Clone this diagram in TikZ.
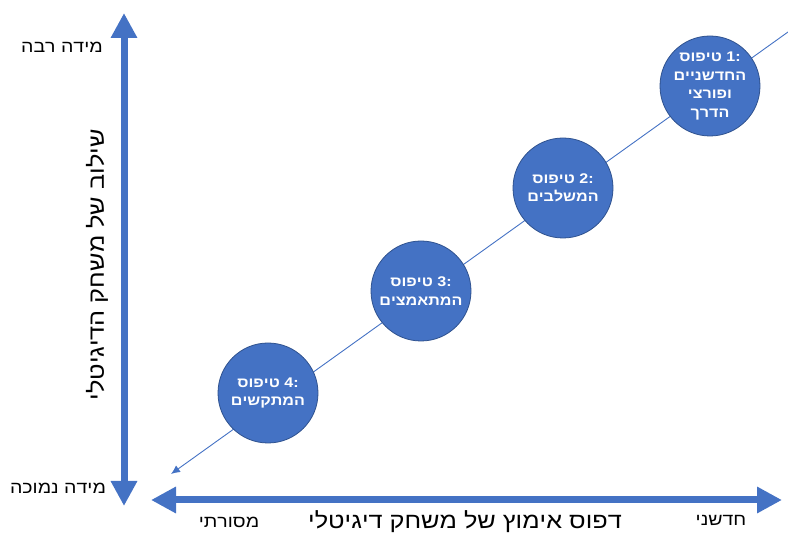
\documentclass[tikz,border=0pt]{standalone}
\usepackage{fontspec}
\setmainfont{Liberation Sans}[FakeStretch=1.15]
\TeXXeTstate=1
\usetikzlibrary{arrows.meta}
\definecolor{obl}{HTML}{4472C4}
\definecolor{obd}{HTML}{2F528F}
\newcommand{\typehead}[1]{\mbox{\beginR טיפוס\endR}\ \mbox{#1:}}
\tikzset{
  bigaxis/.style={draw=obl, line width=7pt, {Triangle[width=25pt,length=25pt]}-{Triangle[width=25pt,length=25pt]}},
  diag/.style={draw=obl, line width=0.9pt, {Latex[length=9pt,width=8pt]}-},
  typecircle/.style={circle, fill=obl, draw=obd, line width=0.8pt, minimum size=100pt, inner sep=0pt,
    text=white, font=\bfseries\fontsize{14}{18.5}\selectfont, align=center},
  lbl/.style={text=black, font=\fontsize{17}{20}\selectfont, inner sep=0pt},
  axtitle/.style={text=black, font=\fontsize{22}{25}\selectfont, inner sep=0pt}
}
\begin{document}
\begin{tikzpicture}[x=1pt,y=-1pt]
\useasboundingbox (0,0) rectangle (788,534);
% diagonal
\coordinate (dlo) at (171,474);
\coordinate (dhi) at (788,32);
\draw[diag] (dlo) -- (dhi);
% axes
\coordinate (ytop) at (124,13);
\coordinate (ybot) at (124,506);
\draw[bigaxis] (ybot) -- (ytop);
\coordinate (xl) at (151,500);
\coordinate (xr) at (782,500);
\draw[bigaxis] (xl) -- (xr);
% circles
\node[typecircle] (t1) at (710,86) {\typehead{1}\\\beginR החדשניים\endR\\\beginR ופורצי\endR\\\beginR הדרך\endR};
\node[typecircle] (t2) at (563,188) {\typehead{2}\\\beginR המשלבים\endR};
\node[typecircle] (t3) at (421,291) {\typehead{3}\\\beginR המתאמצים\endR};
\node[typecircle] (t4) at (268,393) {\typehead{4}\\\beginR המתקשים\endR};
% labels
\node[lbl] (hi) at (62,47) {\beginR מידה רבה\endR};
\node[lbl] (lo) at (58,488) {\beginR מידה נמוכה\endR};
\node[lbl] (trad) at (229,522) {\beginR מסורתי\endR};
\node[lbl] (inno) at (721,520) {\beginR חדשני\endR};
\node[axtitle] (xt) at (465,522) {\beginR דפוס אימוץ של משחק דיגיטלי\endR};
\node[axtitle, rotate=90] (yt) at (97,265) {\beginR שילוב של משחק הדיגיטלי\endR};
\end{tikzpicture}
\end{document}
